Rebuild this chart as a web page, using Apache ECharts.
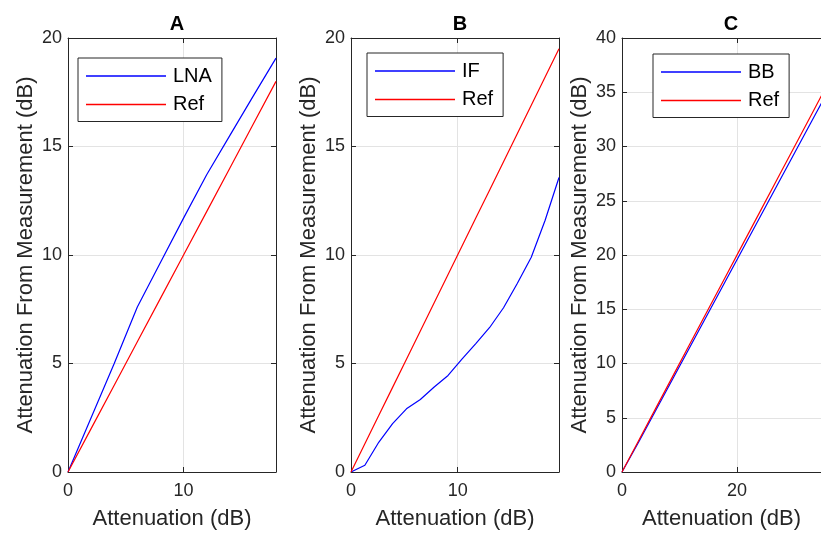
<!DOCTYPE html>
<html>
<head>
<meta charset="utf-8">
<title>Attenuation</title>
<script src="https://cdn.jsdelivr.net/npm/echarts@6/dist/echarts.min.js"></script>
<style>
    html, body { margin: 0; padding: 0; background: #fff; }
    #main { width: 821px; height: 538px; }
</style>
</head>
<body>
<div id="main"></div>
<script>
// 面板 A：LNA
let attA = [0, 2, 4, 6, 8, 10, 12, 14, 16, 18];
let lnaA = [0, 2.5, 5.0, 7.6, 9.65, 11.7, 13.7, 15.5, 17.3, 19.07];
let refA = [0, 2, 4, 6, 8, 10, 12, 14, 16, 18];

// 面板 B：IF
let attB = [0, 1.3, 2.6, 3.9, 5.2, 6.5, 7.8, 9.1, 10.4, 11.7, 13, 14.3, 15.6, 16.9, 18.2, 19.5];
let ifB = [0, 0.31, 1.37, 2.23, 2.91, 3.34, 3.92, 4.45, 5.2, 5.92, 6.66, 7.57, 8.7, 9.9, 11.6, 13.57];
let refB = [0, 1.3, 2.6, 3.9, 5.2, 6.5, 7.8, 9.1, 10.4, 11.7, 13, 14.3, 15.6, 16.9, 18.2, 19.5];

// 面板 C：BB（右边被图片裁掉）
let attC = [0, 3, 6, 9, 12, 15, 18, 21, 24, 27, 30, 33, 36];
let bbC = [0, 2.85, 5.8, 8.75, 11.7, 14.65, 17.6, 20.55, 23.5, 26.45, 29.4, 32.35, 35.3];
let refC = [0, 3, 6, 9, 12, 15, 18, 21, 24, 27, 30, 33, 36];

let panelTitles = ['A', 'B', 'C'];
let seriesNames = ['LNA', 'IF', 'BB'];
let xMax = [18, 19.5, 34.6];
let xStep = [10, 10, 20];
let yMax = [20, 20, 40];
let yStep = [5, 5, 5];

const FONT = '"Liberation Sans", Arial, Helvetica, sans-serif';
const INK = '#262626';

// 每个面板的位置
let grids = [
    { left: 68, top: 38, width: 208, height: 434 },
    { left: 351, top: 38, width: 208, height: 434 },
    { left: 622, top: 38, width: 199, height: 434 }
];
let titleX = [172, 455, 726];
let legendPos = [
    { left: 78, top: 58 },
    { left: 367, top: 53 },
    { left: 653, top: 54 }
];

function pairs(xs, ys) {
    return xs.map((x, i) => [x, ys[i]]);
}

let xAxes = [];
let yAxes = [];
let titles = [];
let legends = [];
let series = [];

let measured = [pairs(attA, lnaA), pairs(attB, ifB), pairs(attC, bbC)];
let refs = [pairs(attA, refA), pairs(attB, refB), pairs(attC, refC)];

for (let i = 0; i < 3; i++) {
    titles.push({
        text: panelTitles[i],
        left: titleX[i],
        top: 9,
        textAlign: 'center',
        textStyle: { fontFamily: FONT, fontSize: 20, fontWeight: 'bold', color: '#000' }
    });
    // 下轴（带标签）
    xAxes.push({
        type: 'value', gridIndex: i, position: 'bottom',
        min: 0, max: xMax[i], interval: xStep[i],
        name: 'Attenuation (dB)', nameLocation: 'middle', nameGap: 36,
        nameTextStyle: { fontFamily: FONT, fontSize: 22, color: INK },
        axisLine: { onZero: false, lineStyle: { color: INK, width: 1 } },
        axisTick: { inside: true, length: 5, lineStyle: { color: INK } },
        axisLabel: { margin: 10, showMaxLabel: false, fontFamily: FONT, fontSize: 18, color: INK },
        splitLine: { show: true, lineStyle: { color: '#e3e3e3', width: 1 } }
    });
    // 上轴（只画刻度）
    xAxes.push({
        type: 'value', gridIndex: i, position: 'top',
        min: 0, max: xMax[i], interval: xStep[i],
        axisLine: { onZero: false, lineStyle: { color: INK, width: 1 } },
        axisTick: { inside: true, length: 5, lineStyle: { color: INK } },
        axisLabel: { show: false },
        splitLine: { show: false }
    });
    yAxes.push({
        type: 'value', gridIndex: i, position: 'left',
        min: 0, max: yMax[i], interval: yStep[i],
        name: 'Attenuation From Measurement (dB)', nameLocation: 'middle', nameGap: 31,
        nameTextStyle: { fontFamily: FONT, fontSize: 22, color: INK },
        axisLine: { show: true, onZero: false, lineStyle: { color: INK, width: 1 } },
        axisTick: { show: true, inside: true, length: 5, lineStyle: { color: INK } },
        axisLabel: { margin: 6, fontFamily: FONT, fontSize: 18, color: INK },
        splitLine: { show: true, lineStyle: { color: '#e3e3e3', width: 1 } }
    });
    // 右轴，C 面板的右边在图外
    yAxes.push({
        type: 'value', gridIndex: i, position: 'right',
        show: i < 2,
        min: 0, max: yMax[i], interval: yStep[i],
        axisLine: { show: true, onZero: false, lineStyle: { color: INK, width: 1 } },
        axisTick: { show: true, inside: true, length: 5, lineStyle: { color: INK } },
        axisLabel: { show: false },
        splitLine: { show: false }
    });
    legends.push({
        left: legendPos[i].left, top: legendPos[i].top,
        orient: 'vertical',
        data: [
            { name: seriesNames[i], icon: 'rect' },
            { name: 'Ref', icon: 'rect' }
        ],
        itemWidth: 80, itemHeight: 1.3, itemGap: 8.5,
        padding: [8, 10, 7, 8],
        backgroundColor: '#fff',
        borderColor: INK, borderWidth: 1, borderRadius: 0,
        selectedMode: false,
        textStyle: { fontFamily: FONT, fontSize: 20, lineHeight: 20, color: '#000', padding: [0, 0, 0, 2] }
    });
    series.push({
        name: seriesNames[i], type: 'line',
        xAxisIndex: i * 2, yAxisIndex: i * 2,
        data: measured[i], symbol: 'none', smooth: false,
        itemStyle: { color: '#0000ff' },
        lineStyle: { color: '#0000ff', width: 1.2 },
        z: 3
    });
    series.push({
        name: 'Ref', type: 'line',
        xAxisIndex: i * 2, yAxisIndex: i * 2,
        data: refs[i], symbol: 'none', smooth: false,
        itemStyle: { color: '#ff0000' },
        lineStyle: { color: '#ff0000', width: 1.2 },
        z: 4
    });
}

let chart = echarts.init(document.getElementById('main'), null, { renderer: 'canvas' });
chart.setOption({
    animation: false,
    backgroundColor: '#fff',
    title: titles,
    grid: grids,
    xAxis: xAxes,
    yAxis: yAxes,
    legend: legends,
    series: series
});
</script>
</body>
</html>
